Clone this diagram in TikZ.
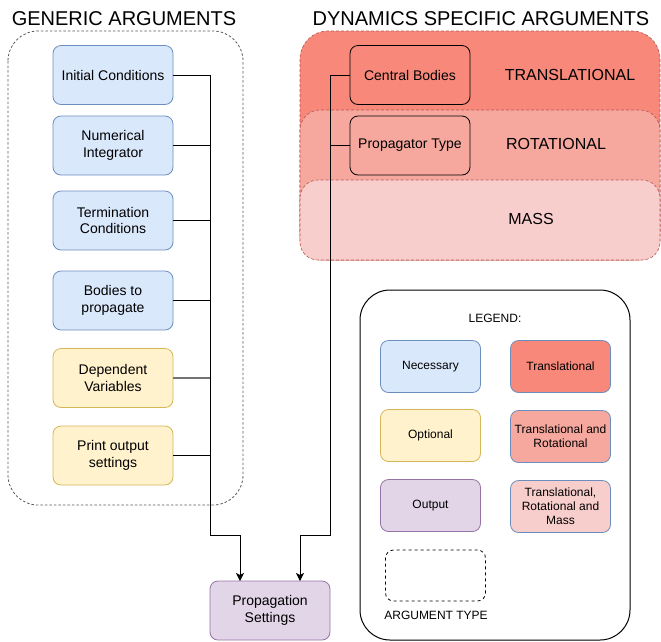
\documentclass[tikz,border=0pt]{standalone}
\usepackage{fontspec}
\setmainfont{Liberation Sans}
\usetikzlibrary{arrows.meta}
\definecolor{nfill}{HTML}{DAE8FC}\definecolor{nstroke}{HTML}{6C8EBF}
\definecolor{ofill}{HTML}{FFF2CC}\definecolor{ostroke}{HTML}{D6B656}
\definecolor{pfill}{HTML}{E1D5E7}\definecolor{pstroke}{HTML}{9673A6}
\definecolor{tfill}{HTML}{F7887A}\definecolor{rfill}{HTML}{F6A89E}
\definecolor{mfill}{HTML}{F8CECC}\definecolor{rstroke}{HTML}{B85450}
\tikzset{
  box/.style={rounded corners=8pt, minimum width=120pt, minimum height=59pt, align=center, line width=0.8pt, font=\fontsize{14}{16.5}\selectfont, inner sep=0pt},
  nec/.style={box, fill=nfill, draw=nstroke},
  opt/.style={box, fill=ofill, draw=ostroke},
  outp/.style={box, fill=pfill, draw=pstroke},
  dyn/.style={box, draw=black},
  lbox/.style={rounded corners=8pt, minimum width=100pt, minimum height=52pt, align=center, line width=0.8pt, font=\fontsize{12}{14}\selectfont, inner sep=0pt},
  region/.style={draw=rstroke, dash pattern=on 3pt off 2pt, line width=0.6pt},
  title/.style={font=\fontsize{20}{24}\selectfont, inner sep=0pt},
  rlabel/.style={font=\fontsize{16}{19}\selectfont, inner sep=0pt},
  conn/.style={line width=1pt, draw=black},
  arr/.style={conn, -{Stealth[length=8pt,width=8pt,inset=2pt]}},
}
\begin{document}
\begin{tikzpicture}[x=1pt,y=-1pt]
\useasboundingbox (0,0) rectangle (661,641);
% titles
\node[title] (t1) at (124,19) {GENERIC ARGUMENTS};
\node[title] (t2) at (481,19) {DYNAMICS SPECIFIC ARGUMENTS};
% generic container
\draw[draw=black!65, dash pattern=on 2.5pt off 2pt, line width=0.8pt, rounded corners=30pt] (8,31) rectangle (243,505);
% dynamics regions
\draw[region, fill=tfill, rounded corners=28pt] (300,31) rectangle (660,260);
\draw[region, fill=rfill, rounded corners=20pt] (300,110) rectangle (660,260);
\draw[region, fill=mfill, rounded corners=18pt] (300,180) rectangle (660,260);
\node[rlabel] (lt) at (570,75) {TRANSLATIONAL};
\node[rlabel] (lr) at (556,144) {ROTATIONAL};
\node[rlabel] (lm) at (531,219) {MASS};
% generic boxes
\node[nec] (ic) at (113,75) {Initial Conditions};
\node[nec] (ni) at (113,145.5) {Numerical\\Integrator};
\node[nec] (tc) at (113,220.5) {Termination\\Conditions};
\node[nec] (bp) at (113,300.5) {Bodies to\\propagate};
\node[opt] (dv) at (113,378) {Dependent\\Variables};
\node[opt] (po) at (113,455.5) {Print output\\settings};
% dynamics boxes
\node[dyn, fill=tfill] (cb) at (410,75) {Central Bodies};
\node[dyn, fill=rfill] (pt) at (410,145.5) {Propagator Type};
% propagation settings
\node[outp] (ps) at (270,610.5) {Propagation\\Settings};
% junction coordinates
\coordinate (jl) at (210,535);
\coordinate (jr) at (330,535);
\coordinate (al) at (240,581);
\coordinate (ar) at (300,581);
% connectors
\draw[conn] (ni.east) -- (ni.east -| jl);
\draw[conn] (tc.east) -- (tc.east -| jl);
\draw[conn] (bp.east) -- (bp.east -| jl);
\draw[conn, draw=black!55, line width=1.3pt] (dv.east) -- (dv.east -| jl);
\draw[conn] (po.east) -- (po.east -| jl);
\draw[arr] (ic.east) -| (jl) -| (al);
\draw[conn] (pt.west) -- (pt.west -| jr);
\draw[arr] (cb.west) -| (jr) -| (ar);
% legend
\draw[line width=1pt, rounded corners=30pt] (360,290) rectangle (630,640);
\node[font=\fontsize{12}{14}\selectfont, inner sep=0pt] (lg) at (495,318) {LEGEND:};
\node[lbox, fill=nfill, draw=nstroke] (l1) at (430.5,366.5) {Necessary};
\node[lbox, fill=ofill, draw=ostroke] (l2) at (430.5,435.5) {Optional};
\node[lbox, fill=pfill, draw=pstroke] (l3) at (430.5,505.5) {Output};
\node[lbox, fill=tfill, draw=nstroke] (l4) at (560.5,366.5) {Translational};
\node[lbox, fill=rfill, draw=nstroke] (l5) at (560.5,436.5) {Translational and\\Rotational};
\node[lbox, fill=mfill, draw=nstroke] (l6) at (560.5,506.5) {Translational,\\Rotational and\\Mass};
\node[lbox, draw=black, dashed, minimum height=51pt] (l7) at (435.5,575.5) {};
\node[font=\fontsize{12}{14}\selectfont, inner sep=0pt] (lat) at (436,615) {ARGUMENT TYPE};
\end{tikzpicture}
\end{document}
